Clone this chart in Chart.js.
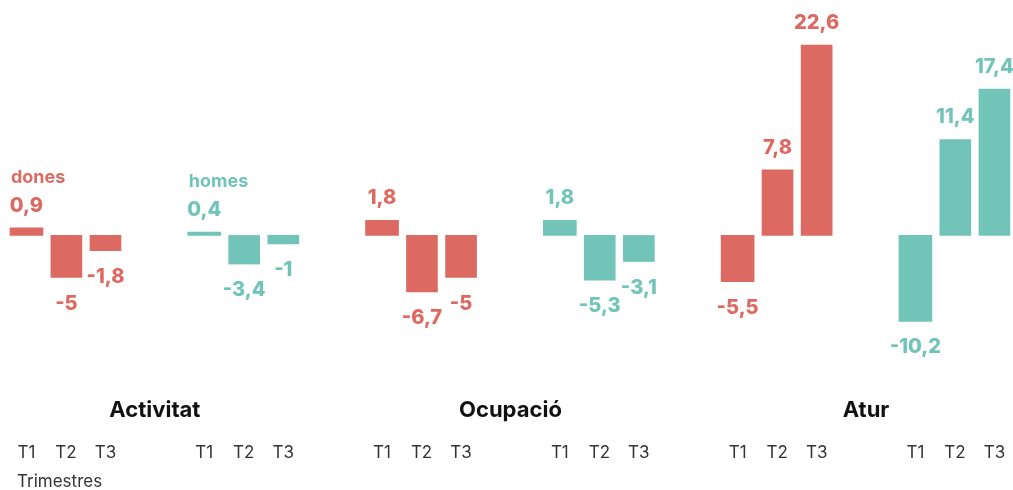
<!DOCTYPE html>
<html lang="ca">
  <head>
    <meta charset="UTF-8" />
    <title>Activitat, ocupació i atur per sexe</title>
    <style>
      body {
        margin: 0;
        background-color: #ffffff;
        font-family: Inter, Arial, sans-serif;
      }
      .chart-container {
        position: relative;
        width: 1013px;
        height: 490px;
      }
    </style>
    <script src="https://cdn.jsdelivr.net/npm/chart.js"></script>
  </head>
  <body>
    <div class="chart-container">
      <canvas id="barChart"></canvas>
    </div>

    <script>
      // Dades: variació per trimestre, un panell per indicador i sexe
      const indicators = ["Activitat", "Ocupació", "Atur"];
      const sexes = ["dones", "homes"];
      const quarters = ["T1", "T2", "T3"];
      const t1Values = [0.9, 0.4, 1.8, 1.8, -5.5, -10.2];
      const t2Values = [-5, -3.4, -6.7, -5.3, 7.8, 11.4];
      const t3Values = [-1.8, -1, -5, -3.1, 22.6, 17.4];

      const RED = "#dc6a62";
      const TEAL = "#72c4b9";
      const PANEL_STEP = 4.5;
      const FONT = "Inter";

      const panelColors = [];
      for (let i = 0; i < indicators.length; i++) {
        panelColors.push(RED, TEAL);
      }

      function makeDataset(label, values, t, thickness) {
        return {
          label: label,
          data: values.map(function (v, p) {
            return { x: p * PANEL_STEP + t, y: v };
          }),
          backgroundColor: panelColors,
          barThickness: thickness,
          grouped: false,
        };
      }

      const allValues = [t1Values, t2Values, t3Values];
      const tickPositions = [];
      for (let p = 0; p < t1Values.length; p++) {
        for (let t = 0; t < quarters.length; t++) {
          tickPositions.push(p * PANEL_STEP + t);
        }
      }

      function fmt(v) {
        return String(v).replace(".", ",");
      }

      // Etiquetes de valor, llegenda i títols
      const labelsPlugin = {
        id: "labels",
        afterDatasetsDraw(chart) {
          const ctx = chart.ctx;
          const xScale = chart.scales.x;
          const zeroY = chart.scales.y.getPixelForValue(0);
          ctx.save();
          ctx.font = "800 20px " + FONT;
          ctx.textAlign = "center";
          ctx.textBaseline = "alphabetic";
          chart.data.datasets.forEach(function (ds, di) {
            const meta = chart.getDatasetMeta(di);
            meta.data.forEach(function (bar, i) {
              const v = ds.data[i].y;
              ctx.fillStyle = panelColors[i];
              const y = v >= 0 ? bar.y - 16 : bar.y + 32;
              ctx.fillText(fmt(v), bar.x, y);
              // llegenda sobre el primer trimestre
              if (di === 0 && i < sexes.length) {
                ctx.save();
                ctx.font = "bold 18px " + FONT;
                ctx.textAlign = "left";
                ctx.fillText(sexes[i], bar.x - bar.width / 2 + 1, y - 29);
                ctx.restore();
              }
            });
          });

          ctx.fillStyle = "#111111";
          ctx.font = "bold 22px " + FONT;
          indicators.forEach(function (name, k) {
            const x = xScale.getPixelForValue(k * 2 * PANEL_STEP + (PANEL_STEP + 2) / 2);
            ctx.fillText(name, x, zeroY + 182);
          });

          ctx.fillStyle = "#333333";
          ctx.font = "17px " + FONT;
          ctx.textAlign = "left";
          ctx.fillText("Trimestres", 17, 487);
          ctx.restore();
        },
      };

      new Chart(document.getElementById("barChart"), {
        type: "bar",
        data: {
          datasets: [
            makeDataset(quarters[0], allValues[0], 0, 33),
            makeDataset(quarters[1], allValues[1], 1.01, 31),
            makeDataset(quarters[2], allValues[2], 2, 31),
          ],
        },
        options: {
          responsive: true,
          maintainAspectRatio: false,
          animation: false,
          layout: { padding: { top: 25, left: 0, right: 0, bottom: 24 } },
          plugins: {
            legend: { display: false },
            tooltip: { enabled: false },
          },
          scales: {
            x: {
              type: "linear",
              offset: false,
              min: -0.67,
              max: 24.97,
              grid: { display: false, drawTicks: false },
              border: { display: false },
              afterBuildTicks: function (scale) {
                scale.ticks = tickPositions.map(function (v) {
                  return { value: v };
                });
              },
              afterFit: function (scale) {
                scale.height = 26;
              },
              ticks: {
                padding: 3,
                autoSkip: false,
                maxRotation: 0,
                color: "#333333",
                font: { family: FONT, size: 17 },
                callback: function (value) {
                  const t = Math.round(value % PANEL_STEP);
                  return quarters[t];
                },
              },
            },
            y: {
              display: false,
              min: -24.3,
              max: 25,
            },
          },
        },
        plugins: [labelsPlugin],
      });
    </script>
  </body>
</html>
